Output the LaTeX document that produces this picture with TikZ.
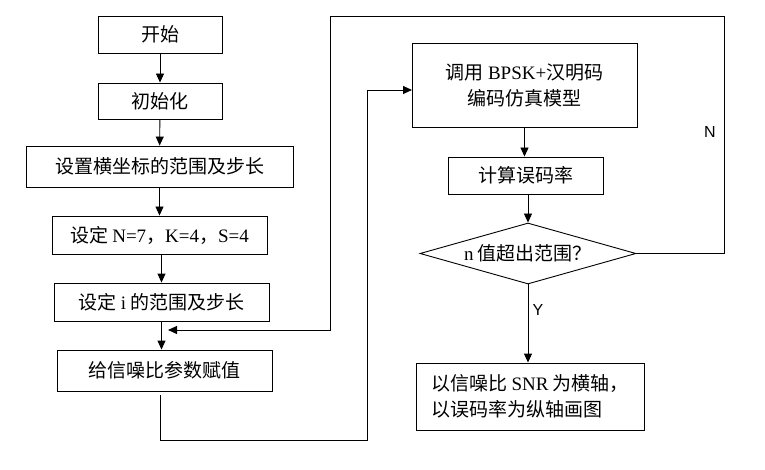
\documentclass[tikz,border=0pt]{standalone}
\usepackage{fontspec}
\setmainfont{Noto Sans CJK SC}
\newfontfamily\lat{Liberation Serif}
\newfontfamily\lsans{Liberation Sans}
\usetikzlibrary{arrows.meta,shapes.geometric}
\begin{document}
\begin{tikzpicture}[x=1pt,y=-1pt,
  box/.style={draw, line width=0.9pt, inner sep=0pt, font=\fontsize{19}{26}\selectfont},
  arr/.style={line width=0.9pt, -{Triangle[length=9pt,width=8pt]}},
  lab/.style={font=\lsans\fontsize{16}{18}\selectfont}]
\useasboundingbox (0,0) rectangle (765,470);
\node[box, minimum width=124pt, minimum height=37pt] (start) at (160,34.5) {开始};
\node[box, minimum width=124pt, minimum height=36pt] (init) at (160,101) {初始化};
\node[box, minimum width=267pt, minimum height=41pt] (range) at (159.5,166.5) {设置横坐标的范围及步长};
\node[box, minimum width=215pt, minimum height=38pt] (nks) at (159.5,235) {设定 {\lat N=7}，{\lat K=4}，{\lat S=4}};
\node[box, minimum width=215pt, minimum height=38pt] (irange) at (161.5,302) {设定 {\lat i} 的范围及步长};
\node[box, minimum width=215pt, minimum height=41pt] (snr) at (164.5,370.5) {给信噪比参数赋值};
\node[box, minimum width=225pt, minimum height=84pt, align=center] (call) at (524.5,85) {调用 {\lat BPSK+}汉明码\\编码仿真模型};
\node[box, minimum width=155pt, minimum height=37pt] (ber) at (525.5,175.5) {计算误码率};
\node[box, diamond, aspect=3.5, minimum width=216pt, minimum height=61pt] (dia) at (528,253.5) {{\lat n} 值超出范围？};
\node[box, minimum width=228pt, minimum height=67pt, align=left] (plot) at (530,396.5) {以信噪比 {\lat SNR} 为横轴，\\以误码率为纵轴画图};
\node[lab] (n) at (710,132) {N};
\node[lab] (y) at (538,310) {Y};
\coordinate (j) at (168,330);
\coordinate (cin) at (412,90);
\draw[arr] (start) -- (init);
\draw[arr] (init) -- (range);
\draw[arr] (range.south) -- (range.south |- nks.north);
\draw[arr] (nks.south) -- (nks.south -| irange.north) -- (irange.north);
\draw[arr] (irange.south) -- (irange.south |- snr.north);
\draw[arr] (call.south) -- (call.south |- ber.north);
\draw[arr] (ber.south) -- (ber.south -| dia.north) -- (dia.north);
\draw[arr] (dia.south) -- (dia.south |- plot.north);
\draw[arr] (dia.east) -- (724,253.5) -- (724,16) -- (330,16) -- (330,330) -- (j);
\draw[arr] (160,395) -- (160,440) -- (367,440) -- (367,90) -- (cin);
\end{tikzpicture}
\end{document}
